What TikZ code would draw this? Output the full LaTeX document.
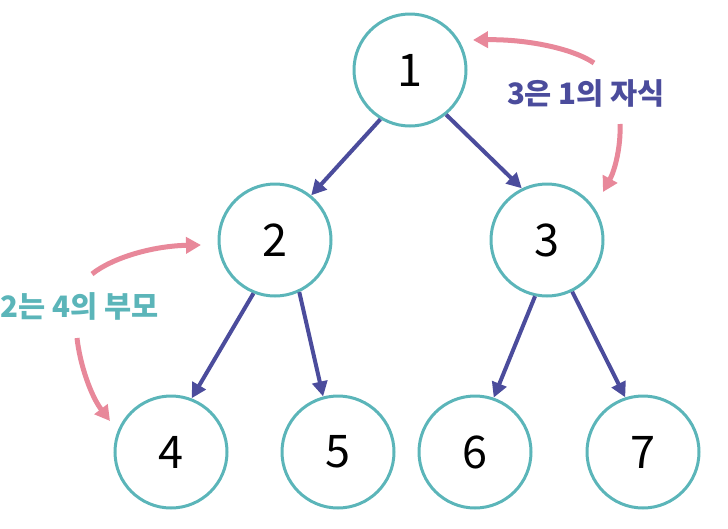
\documentclass[tikz,border=0pt]{standalone}
\usepackage{fontspec}
\setmainfont{Noto Sans CJK KR}
\usetikzlibrary{arrows.meta}
\definecolor{teal1}{HTML}{5BB5B9}
\definecolor{navy1}{HTML}{4B4C9C}
\definecolor{pink1}{HTML}{E8889A}
\tikzset{
  tnode/.style={circle,draw=teal1,line width=3pt,minimum size=112pt,inner sep=0pt,font=\fontsize{45}{48}\selectfont},
  edge/.style={draw=navy1,line width=4pt,-{Triangle[length=15pt,width=15pt]}},
  parr/.style={draw=pink1,line width=5pt,-{Triangle[length=15pt,width=16pt]}},
  lbl/.style={font=\fontsize{29.5}{32}\selectfont\bfseries,inner sep=0pt}
}
\begin{document}
\begin{tikzpicture}[x=1pt,y=-1pt]
\useasboundingbox (0,0) rectangle (728,528);
\node[tnode] (n1) at (410,70) {1};
\node[tnode] (n2) at (275,240) {2};
\node[tnode] (n3) at (547,240) {3};
\node[tnode] (n4) at (171,452) {4};
\node[tnode] (n5) at (338,452) {5};
\node[tnode] (n6) at (475,452) {6};
\node[tnode] (n7) at (643,452) {7};
\draw[edge] (n1.239) -- (n2.51);
\draw[edge] (n1.309) -- (n3.116);
\draw[edge] (n2.248) -- (n4.69);
\draw[edge] (n2.295) -- (n5.105);
\draw[edge] (n3.258) -- (n6.71);
\draw[edge] (n3.296) -- (n7.108);
\node[lbl,text=navy1] (t1) at (586,93) {3은 1의 자식};
\node[lbl,text=teal1] (t2) at (80,306) {2는 4의 부모};
\coordinate (a1) at (594,63);
\coordinate (b1) at (473,40);
\coordinate (a2) at (620,124);
\coordinate (b2) at (603,192);
\coordinate (a3) at (92,274);
\coordinate (b3) at (201,245);
\coordinate (a4) at (77,338);
\coordinate (b4) at (110,421);
\draw[parr] (a1) .. controls (572,48) and (525,39) .. (b1);
\draw[parr] (a2) .. controls (621,146) and (615,170) .. (b2);
\draw[parr] (a3) .. controls (112,258) and (152,246) .. (b3);
\draw[parr] (a4) .. controls (80,365) and (91,396) .. (b4);
\end{tikzpicture}
\end{document}
